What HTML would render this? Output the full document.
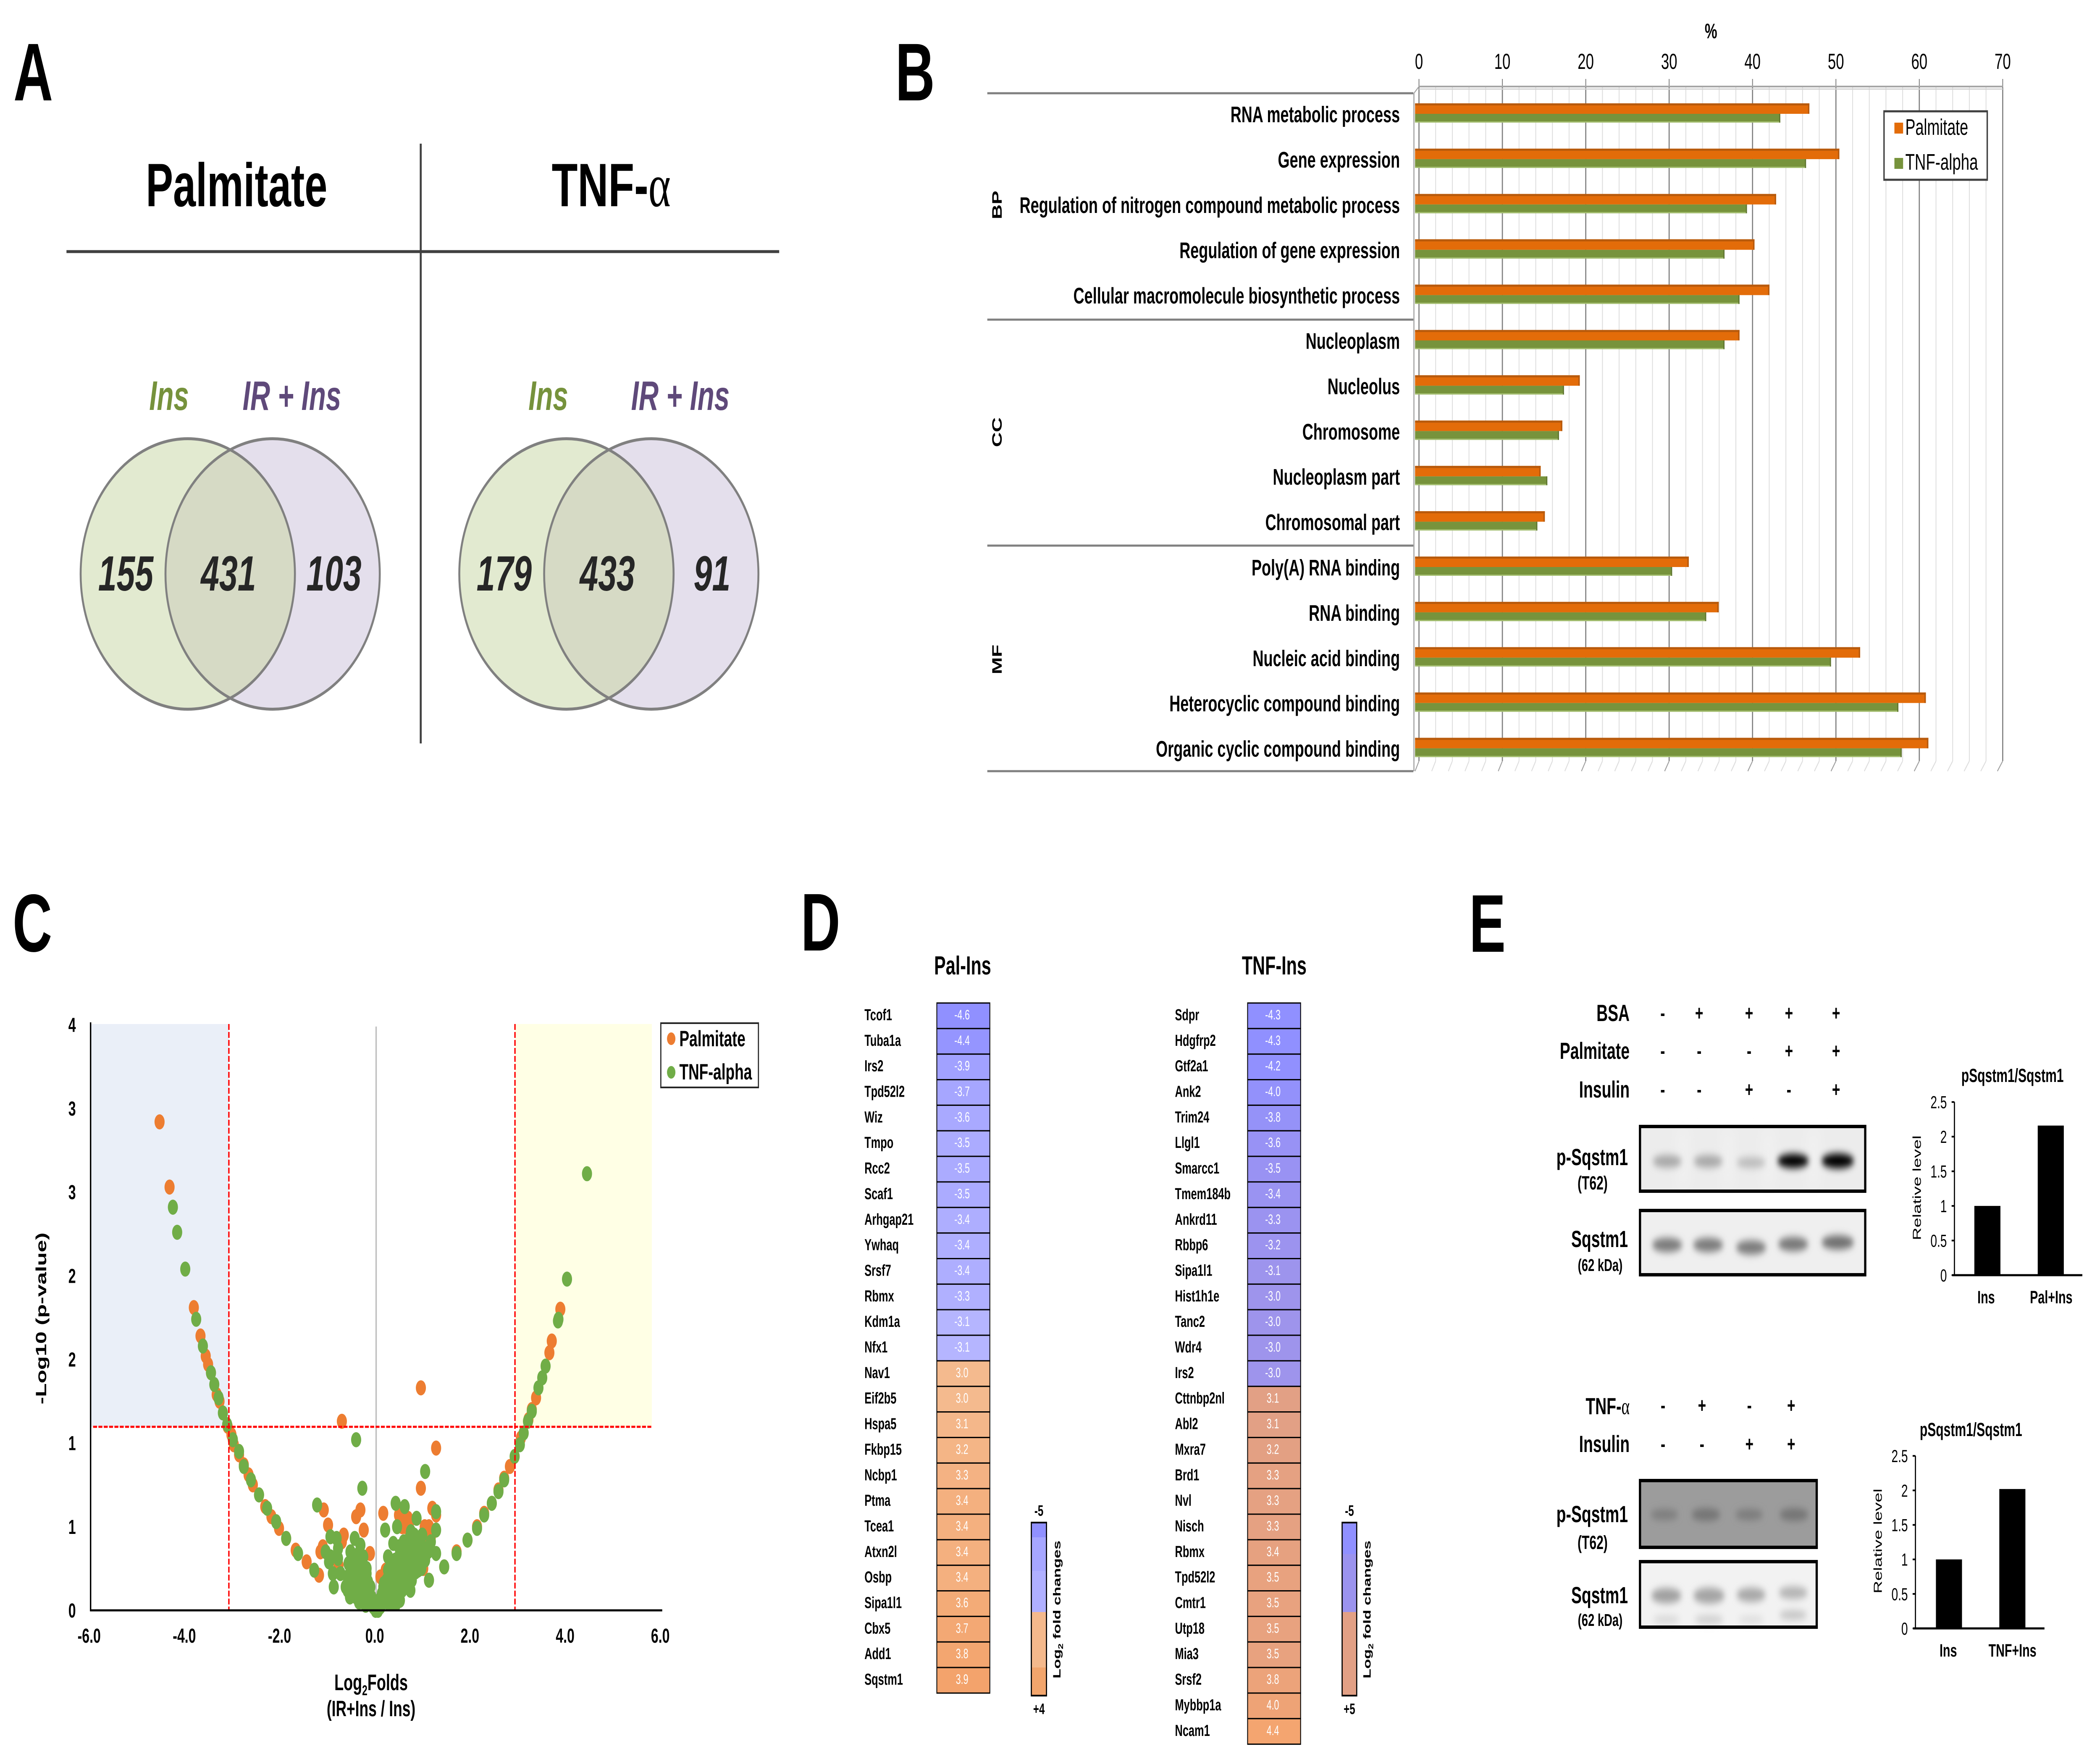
<!DOCTYPE html>
<html lang="en">
<head>
<meta charset="utf-8">
<title>Multi-panel proteomics figure</title>
<style>
html,body{margin:0;padding:0;background:#fff;width:100%;height:100%;overflow:hidden;}
svg{display:block;width:100vw;height:100vh;font-family:"Liberation Sans",sans-serif;}
.b{font-weight:700;}
</style>
</head>
<body>
<svg id="fig" xmlns="http://www.w3.org/2000/svg" viewBox="0 0 7487 4176" preserveAspectRatio="none">
<defs>
<filter id="blur" x="-50%" y="-150%" width="200%" height="400%"><feGaussianBlur stdDeviation="9"/></filter>
<filter id="blurWide" x="-50%" y="-100%" width="200%" height="300%"><feGaussianBlur stdDeviation="22"/></filter>
<clipPath id="vennClip1"><ellipse cx="669.5" cy="1366.5" rx="382" ry="322"/></clipPath>
<clipPath id="vennClip2"><ellipse cx="2019.5" cy="1366.5" rx="382" ry="322"/></clipPath>
</defs>
<rect x="0" y="0" width="7487" height="4176" fill="#fff"/>

<!-- Panel letters -->
<g class="b" font-size="195" fill="#000">
<text x="48" y="239">A</text>
<text x="3192" y="239">B</text>
<text x="45" y="2265">C</text>
<text x="2855" y="2263">D</text>
<text x="5238" y="2266">E</text>
</g>

<!-- Panel A -->
<g>
<line x1="1500" y1="342" x2="1500" y2="1770" stroke="#404040" stroke-width="7"/>
<line x1="237" y1="599" x2="2778" y2="599" stroke="#404040" stroke-width="7"/>
<text class="b" x="520" y="491" font-size="146" textLength="647" lengthAdjust="spacingAndGlyphs">Palmitate</text>
<text class="b" x="1967" y="491" font-size="146" textLength="424" lengthAdjust="spacingAndGlyphs">TNF-<tspan font-family="'Liberation Serif',serif" font-weight="400">α</tspan></text>
<g class="b" font-style="italic" font-size="98">
<text x="532" y="976" fill="#76923c">Ins</text>
<text x="865" y="976" fill="#5f497a">IR + Ins</text>
<text x="1884" y="976" fill="#76923c">Ins</text>
<text x="2250" y="976" fill="#5f497a">IR + Ins</text>
</g>
<ellipse cx="669.5" cy="1366.5" rx="382" ry="322" fill="#e2ead0"/>
<ellipse cx="972" cy="1366.5" rx="382" ry="322" fill="#e4dfec"/>
<ellipse cx="972" cy="1366.5" rx="382" ry="322" fill="#d6dac5" clip-path="url(#vennClip1)"/>
<ellipse cx="669.5" cy="1366.5" rx="382" ry="322" fill="none" stroke="#808080" stroke-width="7"/>
<ellipse cx="972" cy="1366.5" rx="382" ry="322" fill="none" stroke="#808080" stroke-width="7"/>
<ellipse cx="2019.5" cy="1366.5" rx="382" ry="322" fill="#e2ead0"/>
<ellipse cx="2322" cy="1366.5" rx="382" ry="322" fill="#e4dfec"/>
<ellipse cx="2322" cy="1366.5" rx="382" ry="322" fill="#d6dac5" clip-path="url(#vennClip2)"/>
<ellipse cx="2019.5" cy="1366.5" rx="382" ry="322" fill="none" stroke="#808080" stroke-width="7"/>
<ellipse cx="2322" cy="1366.5" rx="382" ry="322" fill="none" stroke="#808080" stroke-width="7"/>
<g class="b" font-style="italic" font-size="118" fill="#262626">
<text x="350" y="1406">155</text>
<text x="716" y="1406">431</text>
<text x="1092" y="1406">103</text>
<text x="1699" y="1406">179</text>
<text x="2067" y="1406">433</text>
<text x="2473" y="1406">91</text>
</g>
</g>

<g id="panelB"></g>
<g id="panelC"></g>
<g id="panelD"></g>

<!-- Panel E blots -->
<g>
<g class="b" font-size="56" text-anchor="end">
<text x="5810" y="2431">BSA</text>
<text x="5810" y="2521">Palmitate</text>
<text x="5810" y="2613">Insulin</text>
<text x="5804" y="2774">p-Sqstm1</text>
<text x="5804" y="2969">Sqstm1</text>
<text x="5810" y="3367">TNF-<tspan font-family="'Liberation Serif',serif" font-weight="400">α</tspan></text>
<text x="5810" y="3457">Insulin</text>
<text x="5804" y="3624">p-Sqstm1</text>
<text x="5804" y="3817">Sqstm1</text>
</g>
<g class="b" text-anchor="middle">
<text x="5678" y="2832" font-size="45">(T62)</text>
<text x="5705" y="3026" font-size="41">(62 kDa)</text>
<text x="5678" y="3688" font-size="45">(T62)</text>
<text x="5705" y="3871" font-size="41">(62 kDa)</text>
</g>
<g font-size="50" text-anchor="middle" class="b">
<text x="5928" y="2429">-</text><text x="6058" y="2429">+</text><text x="6236" y="2429">+</text><text x="6378" y="2429">+</text><text x="6546" y="2429">+</text>
<text x="5928" y="2519">-</text><text x="6058" y="2519">-</text><text x="6236" y="2519">-</text><text x="6378" y="2519">+</text><text x="6546" y="2519">+</text>
<text x="5928" y="2611">-</text><text x="6058" y="2611">-</text><text x="6236" y="2611">+</text><text x="6378" y="2611">-</text><text x="6546" y="2611">+</text>
<text x="5929" y="3363">-</text><text x="6068" y="3363">+</text><text x="6237" y="3363">-</text><text x="6386" y="3363">+</text>
<text x="5929" y="3455">-</text><text x="6068" y="3455">-</text><text x="6237" y="3455">+</text><text x="6386" y="3455">+</text>
</g>

<g>
<rect x="5843" y="2678" width="811" height="162" fill="#ececec"/>
<g filter="url(#blurWide)" fill="#f6f6f6"><rect x="5990" y="2690" width="20" height="140"/><rect x="6150" y="2690" width="20" height="140"/><rect x="6295" y="2690" width="20" height="140"/><rect x="6455" y="2690" width="20" height="140"/></g>
<g filter="url(#blur)">
<ellipse cx="5944" cy="2765" rx="52" ry="15" fill="#a8a8a8"/>
<ellipse cx="6090" cy="2765" rx="52" ry="15" fill="#a8a8a8"/>
<ellipse cx="6243" cy="2768" rx="52" ry="13" fill="#bcbcbc"/>
<ellipse cx="6393" cy="2764" rx="56" ry="17" fill="#000"/>
<ellipse cx="6552" cy="2764" rx="58" ry="18" fill="#000"/>
</g>
<rect x="5847" y="2682" width="803" height="154" fill="none" stroke="#000" stroke-width="8"/>
</g>
<g>
<rect x="5843" y="2878" width="811" height="161" fill="#efefef"/>
<g filter="url(#blur)">
<ellipse cx="5944" cy="2964" rx="54" ry="17" fill="#7c7c7c"/>
<ellipse cx="6090" cy="2964" rx="54" ry="17" fill="#7c7c7c"/>
<ellipse cx="6243" cy="2970" rx="54" ry="17" fill="#7c7c7c"/>
<ellipse cx="6393" cy="2962" rx="54" ry="17" fill="#787878"/>
<ellipse cx="6552" cy="2958" rx="58" ry="17" fill="#707070"/>
</g>
<rect x="5847" y="2882" width="803" height="153" fill="none" stroke="#000" stroke-width="8"/>
</g>
<g>
<rect x="5843" y="3521" width="638" height="167" fill="#9c9c9c"/>
<g filter="url(#blur)">
<ellipse cx="5934" cy="3606" rx="50" ry="13" fill="#7e7e7e"/>
<ellipse cx="6082" cy="3606" rx="52" ry="15" fill="#747474"/>
<ellipse cx="6236" cy="3606" rx="50" ry="13" fill="#7c7c7c"/>
<ellipse cx="6396" cy="3606" rx="52" ry="15" fill="#747474"/>
</g>
<rect x="5847" y="3525" width="630" height="159" fill="none" stroke="#000" stroke-width="8"/>
</g>
<g>
<rect x="5843" y="3714" width="638" height="164" fill="#f2f2f2"/>
<g filter="url(#blur)">
<ellipse cx="5941" cy="3799" rx="54" ry="18" fill="#a0a0a0"/>
<ellipse cx="6093" cy="3799" rx="56" ry="19" fill="#a4a4a4"/>
<ellipse cx="6243" cy="3797" rx="52" ry="17" fill="#a8a8a8"/>
<ellipse cx="6393" cy="3792" rx="52" ry="15" fill="#b4b4b4"/>
<ellipse cx="5941" cy="3856" rx="48" ry="9" fill="#d6d6d6"/>
<ellipse cx="6093" cy="3856" rx="52" ry="10" fill="#cecece"/>
<ellipse cx="6243" cy="3856" rx="46" ry="8" fill="#dadada"/>
<ellipse cx="6393" cy="3845" rx="50" ry="11" fill="#c4c4c4"/>
</g>
<rect x="5847" y="3718" width="630" height="156" fill="none" stroke="#000" stroke-width="8"/>
</g>
</g>
<g id="panelE"></g>
</svg>

<script>
/* ---------- Panel B data ---------- */
const goCategories = ["RNA metabolic process","Gene expression","Regulation of nitrogen compound metabolic process","Regulation of gene expression","Cellular macromolecule biosynthetic process","Nucleoplasm","Nucleolus","Chromosome","Nucleoplasm part","Chromosomal part","Poly(A) RNA binding","RNA binding","Nucleic acid binding","Heterocyclic compound binding","Organic cyclic compound binding"];
const goPalmitate = [47.4,51.0,43.4,40.8,42.6,39.0,19.8,17.7,15.1,15.6,32.9,36.5,53.5,61.4,61.7];
const goTnf = [43.9,47.0,39.9,37.2,39.0,37.2,17.9,17.3,15.9,14.7,30.9,35.0,50.0,58.1,58.5];
const goTicks = [0,10,20,30,40,50,60,70];
const goMinorTicks = [2,4,6,8,12,14,16,18,22,24,26,28,32,34,36,38,42,44,46,48,52,54,56,58,62,64,66,68];

/* ---------- Panel C data ---------- */
const volcanoXTicks = [-6,-4,-2,0,2,4,6];
const volcanoYTicks = [0,0.5,1,1.5,2,2.5,3,3.5];
const volcanoYLabels = ["0","1","1","2","2","3","3","4"];
const palmitateFold = [-4.55,-4.34,-3.83,-3.69,-3.58,-3.53,-3.47,-3.35,-3.29,-3.12,-3.04,-2.99,-2.88,-2.78,-2.68,-2.59,-2.46,-2.33,-2.20,-2.04,-1.89,-1.69,-1.46,-1.20,3.87,3.69,3.64,3.36,3.27,3.20,3.04,2.81,2.69,2.57,2.43,2.27,2.12,1.92,1.69,1.43,-0.72,0.94,1.26,0.94,1.18,1.26,0.15,0.48,0.67,0.62,1.02,1.11,-1.10,-1.01,-0.33,-0.42,-0.26,-0.68,-0.72,-1.12,-1.17,-0.13,0.57,0.83,1.09,0.99,0.71,-0.48,-0.79,0.09,0.20,-0.12,1.11,0.96,-0.17,0.60,0.55,0.70,1.03,1.15];
const palmitateP = [2.92,2.53,1.81,1.64,1.52,1.47,1.42,1.29,1.25,1.10,1.05,0.99,0.93,0.87,0.81,0.75,0.69,0.62,0.56,0.49,0.43,0.36,0.29,0.21,1.80,1.61,1.54,1.27,1.20,1.14,1.03,0.86,0.79,0.72,0.64,0.58,0.50,0.42,0.35,0.26,1.13,1.33,0.97,0.73,0.61,0.57,0.58,0.57,0.55,0.50,0.50,0.50,0.60,0.51,0.60,0.56,0.48,0.45,0.41,0.38,0.35,0.34,0.40,0.42,0.37,0.25,0.19,0.09,0.27,0.20,0.24,0.07,0.18,0.32,0.14,0.52,0.50,0.53,0.42,0.44];
const tnfFold = [-4.27,-4.18,-4.01,-3.78,-3.64,-3.47,-3.40,-3.31,-3.22,-3.13,-3.01,-2.88,-2.78,-2.63,-2.46,-2.29,-2.10,-1.89,-1.64,-1.30,4.43,4.01,3.82,3.83,3.56,3.49,3.41,3.27,3.19,3.10,3.02,2.91,2.69,2.57,2.43,2.27,2.12,1.92,1.69,1.43,-0.42,1.03,-0.29,0.41,0.60,1.26,-1.24,0.19,0.44,0.85,1.26,0.73,0.97,-0.96,-0.83,-0.80,-1.06,-0.96,-0.99,-0.80,-0.91,-0.89,-0.64,-0.75,-0.45,-0.33,-0.54,-0.43,-0.27,1.15,1.09,1.26,0.83,0.36,0.25,0.52,0.73,0.62,0.88,0.83,1.11,0.52,0.41,0.25,0.15,0.31,0.41,-0.17,-0.22,-0.27,-0.38,-0.48,-0.54,-0.43,-0.33,-0.17,-0.12,-0.06,-0.01,0.04,0.09,0.15,0.20,0.25,0.31,0.36,0.46,0.57,0.67,0.09,0.01,-0.31,-0.45,-0.24,-0.14,0.05,0.12,0.18,0.23,0.30,0.35,0.45,0.50,0.55,0.65,0.70,0.75,0.78,-0.35,-0.50,-0.58,-0.38,-0.30,-0.20,0.40,0.48,0.60,0.68,0.92,0.98,-0.55,-0.50,-0.45,-0.40,-0.35,-0.30,-0.25,-0.20,-0.15,-0.50,-0.45,-0.40,-0.35,-0.30,-0.25,-0.20,-0.15,-0.10,-0.42,-0.36,-0.28,-0.22,-0.60,-0.55,0.10,0.15,0.20,0.25,0.30,0.35,0.40,0.45,0.50,0.55,0.60,0.65,0.70,0.75,0.80,0.85,0.90,0.95,1.00,0.45,0.55,0.65,0.75,0.85,0.50,0.42,0.62,0.72,0.32,0.38,-0.60,-0.55,-0.50,-0.45,-0.40,-0.35,-0.30,-0.25,-0.20,-0.12,-0.08,-0.03,-0.47,-0.38,-0.32,-0.27,-0.18,0.16,0.22,0.27,0.33,0.38,0.43,0.48,0.53,0.58,0.63,0.68,0.73,0.78,0.83,0.88,0.93,1.03,1.06,0.42,0.48,0.55,0.60,0.68,0.78,0.88,0.28,0.33,0.20,0.38,0.48,0.58,0.70,0.80];
const tnfP = [2.41,2.26,2.04,1.74,1.58,1.42,1.35,1.27,1.18,1.11,1.02,0.95,0.86,0.78,0.69,0.61,0.53,0.43,0.34,0.24,2.61,1.98,1.73,1.74,1.46,1.39,1.33,1.19,1.13,1.06,0.99,0.92,0.78,0.71,0.64,0.57,0.49,0.42,0.34,0.26,1.02,0.83,0.73,0.64,0.62,0.59,0.63,0.48,0.50,0.55,0.48,0.47,0.45,0.44,0.43,0.37,0.35,0.32,0.29,0.31,0.22,0.14,0.14,0.22,0.43,0.39,0.35,0.32,0.32,0.41,0.35,0.34,0.37,0.40,0.32,0.37,0.34,0.29,0.29,0.23,0.18,0.22,0.17,0.24,0.14,0.10,0.07,0.17,0.10,0.22,0.25,0.24,0.19,0.15,0.12,0.07,0.04,0.02,0.00,0.00,0.02,0.05,0.09,0.14,0.17,0.20,0.25,0.29,0.24,0.07,0.02,0.18,0.09,0.05,0.12,0.04,0.10,0.15,0.05,0.04,0.12,0.13,0.15,0.20,0.33,0.28,0.30,0.38,0.07,0.12,0.28,0.30,0.28,0.25,0.30,0.32,0.38,0.40,0.38,0.33,0.28,0.25,0.30,0.33,0.22,0.30,0.20,0.22,0.15,0.18,0.20,0.16,0.14,0.10,0.13,0.09,0.06,0.08,0.08,0.05,0.06,0.03,0.12,0.08,0.04,0.09,0.13,0.10,0.15,0.08,0.12,0.18,0.22,0.25,0.20,0.27,0.22,0.18,0.27,0.33,0.30,0.25,0.32,0.28,0.33,0.37,0.36,0.40,0.06,0.04,0.14,0.12,0.24,0.27,0.20,0.22,0.30,0.26,0.22,0.28,0.20,0.26,0.16,0.14,0.06,0.03,0.14,0.10,0.15,0.09,0.12,0.16,0.18,0.20,0.22,0.18,0.23,0.27,0.30,0.26,0.30,0.33,0.33,0.32,0.36,0.35,0.34,0.30,0.37,0.17,0.10,0.12,0.16,0.18,0.22,0.24,0.08,0.11,0.06,0.07,0.38,0.41,0.43,0.45];

/* ---------- Panel D data ---------- */
const palGenes = ["Tcof1","Tuba1a","Irs2","Tpd52l2","Wiz","Tmpo","Rcc2","Scaf1","Arhgap21","Ywhaq","Srsf7","Rbmx","Kdm1a","Nfx1","Nav1","Eif2b5","Hspa5","Fkbp15","Ncbp1","Ptma","Tcea1","Atxn2l","Osbp","Sipa1l1","Cbx5","Add1","Sqstm1"];
const palFolds = [-4.6,-4.4,-3.9,-3.7,-3.6,-3.5,-3.5,-3.5,-3.4,-3.4,-3.4,-3.3,-3.1,-3.1,3.0,3.0,3.1,3.2,3.3,3.4,3.4,3.4,3.4,3.6,3.7,3.8,3.9];
const tnfGenes = ["Sdpr","Hdgfrp2","Gtf2a1","Ank2","Trim24","Llgl1","Smarcc1","Tmem184b","Ankrd11","Rbbp6","Sipa1l1","Hist1h1e","Tanc2","Wdr4","Irs2","Cttnbp2nl","Abl2","Mxra7","Brd1","Nvl","Nisch","Rbmx","Tpd52l2","Cmtr1","Utp18","Mia3","Srsf2","Mybbp1a","Ncam1"];
const tnfFolds = [-4.3,-4.3,-4.2,-4.0,-3.8,-3.6,-3.5,-3.4,-3.3,-3.2,-3.1,-3.0,-3.0,-3.0,-3.0,3.1,3.1,3.2,3.3,3.3,3.3,3.4,3.5,3.5,3.5,3.5,3.8,4.0,4.4];

/* ---------- Panel E data ---------- */
const relTicks = [0,0.5,1,1.5,2,2.5];
const relPalCategories = ["Ins","Pal+Ins"];
const relPalValues = [1.0,2.16];
const relTnfCategories = ["Ins","TNF+Ins"];
const relTnfValues = [1.0,2.02];

const NS = "http://www.w3.org/2000/svg";
function svgEl(tag, attrs, parent, txt){
  const e = document.createElementNS(NS, tag);
  for (const k in attrs) e.setAttribute(k, attrs[k]);
  if (txt !== undefined) e.textContent = txt;
  parent.appendChild(e);
  return e;
}

/* ---------- Panel B ---------- */
(function(){
  const g = document.getElementById('panelB');
  const backX = v => 5059 + v * 29.73;
  const frontX = v => 5045 + v * 29.66;
  const rowY = i => 246 + i * 107.9;
  const wallTop = 208, wallBottom = 1812, floorY = 1836;

  goMinorTicks.forEach(v => {
    const l = svgEl('line', {x1: backX(v), y1: wallTop, x2: backX(v), y2: wallBottom, stroke: '#dedede', 'stroke-width': 3}, g);
    
    
    svgEl('line', {x1: backX(v), y1: wallBottom, x2: frontX(v), y2: floorY, stroke: '#dedede', 'stroke-width': 3}, g);
  });
  goTicks.forEach(v => {
    const l = svgEl('line', {x1: backX(v), y1: wallTop, x2: backX(v), y2: wallBottom, stroke: '#808080', 'stroke-width': 4}, g);
    
    
    svgEl('line', {x1: backX(v), y1: wallBottom, x2: frontX(v), y2: floorY, stroke: '#a0a0a0', 'stroke-width': 3}, g);
    svgEl('line', {x1: backX(v), y1: 188, x2: backX(v), y2: wallTop, stroke: '#808080', 'stroke-width': 3}, g);
    const t = svgEl('text', {x: backX(v), y: 164, 'font-size': 52, 'text-anchor': 'middle'}, g, String(v));
    
    
  });
  svgEl('line', {x1: backX(0), y1: 206, x2: backX(70), y2: 206, stroke: '#a6a6a6', 'stroke-width': 4}, g);
  svgEl('line', {x1: backX(0), y1: 212, x2: backX(70), y2: 212, stroke: '#d0d0d0', 'stroke-width': 3}, g);
  svgEl('line', {x1: 5041, y1: 222, x2: backX(0), y2: 206, stroke: '#a6a6a6', 'stroke-width': 3}, g);
  svgEl('line', {x1: 5041, y1: 222, x2: 5041, y2: 1836, stroke: '#a6a6a6', 'stroke-width': 4}, g);

  const pct = svgEl('text', {x: 6100, y: 91, 'font-size': 50, 'text-anchor': 'middle', 'font-weight': 700}, g, '%');
  
  

  [222, 761, 1299, 1836].forEach(y => {
    const l = svgEl('line', {x1: 3520, y1: y, x2: 5039, y2: y, stroke: '#808080', 'stroke-width': 5}, g);
    
    
  });
  [['BP', 488], ['CC', 1029], ['MF', 1570]].forEach(p => {
    const t = svgEl('text', {transform: 'translate(3571,' + p[1] + ') rotate(-90)', 'font-size': 49, 'font-weight': 700, 'text-anchor': 'middle'}, g, p[0]);
    
    
  });

  goCategories.forEach((c, i) => {
    const t = svgEl('text', {x: 4991, y: 291 + i * 107.9, 'font-size': 54, 'font-weight': 700, 'text-anchor': 'end'}, g, c);
    
    

    const y = rowY(i);
    const xo = frontX(goPalmitate[i]);
    const orange = svgEl('rect', {x: 5045, y: y, width: xo - 5045, height: 25, fill: '#e36c09'}, g);
    
    
    svgEl('rect', {x: 5045, y: y, width: xo - 5045, height: 5, fill: '#b85a0c'}, g);
    svgEl('rect', {x: xo - 5, y: y, width: 5, height: 25, fill: '#b85a0c'}, g);

    const xg = frontX(goTnf[i]);
    const green = svgEl('rect', {x: 5045, y: y + 25, width: xg - 5045, height: 21, fill: '#77933c'}, g);
    
    
    svgEl('rect', {x: 5045, y: y + 43, width: xg - 5045, height: 3, fill: '#a5bf72'}, g);
    svgEl('rect', {x: xg - 4, y: y + 25, width: 4, height: 21, fill: '#5f7530'}, g);
  });

  const box = svgEl('rect', {x: 6717, y: 265, width: 368, height: 163, fill: '#fff', stroke: '#404040', 'stroke-width': 5}, g);
  
  
  const s1 = svgEl('rect', {x: 6754, y: 292, width: 31, height: 26, fill: '#e36c09'}, g);
  
  
  const t1 = svgEl('text', {x: 6793, y: 321, 'font-size': 54, textLength: 224, lengthAdjust: 'spacingAndGlyphs'}, g, 'Palmitate');
  
  
  const s2 = svgEl('rect', {x: 6754, y: 376, width: 31, height: 26, fill: '#77933c'}, g);
  
  
  const t2 = svgEl('text', {x: 6793, y: 404, 'font-size': 54, textLength: 259, lengthAdjust: 'spacingAndGlyphs'}, g, 'TNF-alpha');
  
  
})();

/* ---------- Panel C ---------- */
(function(){
  const g = document.getElementById('panelC');
  const xS = v => 1341 + v * 169.7;
  const yS = v => 3834 - v * 398.3;

  const blue = svgEl('rect', {x: 323, y: 2438, width: 493, height: 959, fill: '#eaeff8'}, g);
  
  
  const yellow = svgEl('rect', {x: 1836, y: 2438, width: 488, height: 959, fill: '#ffffe5'}, g);
  
  
  const center = svgEl('line', {x1: 1341, y1: 2444, x2: 1341, y2: 3834, stroke: '#bfbfbf', 'stroke-width': 5}, g);
  
  

  palmitateFold.forEach((v, i) => {
    const c = svgEl('circle', {cx: xS(v), cy: yS(palmitateP[i]), r: 18, fill: '#ed7d31'}, g);
    
    
  });
  tnfFold.forEach((v, i) => {
    const c = svgEl('circle', {cx: xS(v), cy: yS(tnfP[i]), r: 18, fill: '#70ad47'}, g);
    
    
  });

  const dash = {stroke: '#ff0000', 'stroke-width': 5, 'stroke-dasharray': '14 5'};
  [[816, 2438, 816, 3834], [1836, 2438, 1836, 3834], [332, 3397, 2324, 3397]].forEach(p => {
    const l = svgEl('line', Object.assign({x1: p[0], y1: p[1], x2: p[2], y2: p[3]}, dash), g);
    
    
  });

  const ax1 = svgEl('line', {x1: 323, y1: 2434, x2: 323, y2: 3836, stroke: '#000', 'stroke-width': 5}, g);
  
  
  const ax2 = svgEl('line', {x1: 321, y1: 3834, x2: 2361, y2: 3834, stroke: '#000', 'stroke-width': 5}, g);
  
  

  volcanoXTicks.forEach(v => {
    const t = svgEl('text', {x: xS(v) - 5, y: 3911, 'font-size': 48, 'font-weight': 700, 'text-anchor': 'middle'}, g, v.toFixed(1));
    
    
  });
  volcanoYTicks.forEach((v, i) => {
    const t = svgEl('text', {x: 257, y: yS(v) + 17, 'font-size': 48, 'font-weight': 700, 'text-anchor': 'middle'}, g, volcanoYLabels[i]);
    
    
  });

  const yt = svgEl('text', {transform: 'translate(165,3139) rotate(-90)', 'font-size': 53, 'font-weight': 700, 'text-anchor': 'middle'}, g, '-Log10 (p-value)');
  
  

  const xt = svgEl('text', {x: 1323, y: 4024, 'font-size': 54, 'font-weight': 700, 'text-anchor': 'middle'}, g);
  
  
  svgEl('tspan', {}, xt, 'Log');
  svgEl('tspan', {dy: 12, 'font-size': 34}, xt, '2');
  svgEl('tspan', {dy: -12}, xt, 'Folds');
  const xt2 = svgEl('text', {x: 1323, y: 4086, 'font-size': 53, 'font-weight': 700, 'text-anchor': 'middle'}, g, '(IR+Ins / Ins)');
  
  

  const box = svgEl('rect', {x: 2356, y: 2436, width: 348, height: 153, fill: '#fff', stroke: '#262626', 'stroke-width': 4}, g);
  
  
  const c1 = svgEl('circle', {cx: 2393, cy: 2473, r: 15, fill: '#ed7d31'}, g);
  
  
  const t1 = svgEl('text', {x: 2422, y: 2491, 'font-size': 53, 'font-weight': 700}, g, 'Palmitate');
  
  
  const c2 = svgEl('circle', {cx: 2393, cy: 2553, r: 15, fill: '#70ad47'}, g);
  
  
  const t2 = svgEl('text', {x: 2422, y: 2570, 'font-size': 53, 'font-weight': 700}, g, 'TNF-alpha');
  
  
})();

/* ---------- Panel D ---------- */
(function(){
  const g = document.getElementById('panelD');
  const rowH = 60.85, top = 2388;
  const lerp = (a, b, t) => Math.round(a + (b - a) * Math.max(0, Math.min(1, t)));
  const mix = (v, v0, v1, c0, c1) => {
    const t = (v - v0) / (v1 - v0);
    return 'rgb(' + lerp(c0[0], c1[0], t) + ',' + lerp(c0[1], c1[1], t) + ',' + lerp(c0[2], c1[2], t) + ')';
  };
  const palColor = v => v < 0 ? mix(v, -4.6, -3.1, [144,144,255], [181,181,255]) : mix(v, 3.0, 3.9, [244,186,142], [243,163,108]);
  const tnfColor = v => v < 0 ? mix(v, -4.3, -3.0, [144,144,255], [158,148,236]) : mix(v, 3.1, 4.4, [226,160,133], [244,165,112]);

  function heatmap(genes, folds, colX, labelX, colorFn){
    genes.forEach((name, i) => {
      const y = top + i * rowH;
      const cell = svgEl('rect', {x: colX, y: y, width: 189, height: rowH, fill: colorFn(folds[i]), stroke: '#000', 'stroke-width': 3}, g);
      
      
      const val = svgEl('text', {x: colX + 90, y: y + 39, 'font-size': 32, fill: '#fff', 'text-anchor': 'middle'}, g, folds[i].toFixed(1));
      
      
      const lab = svgEl('text', {x: labelX, y: y + 41, 'font-size': 38, 'font-weight': 700}, g, name);
      
      
    });
  }
  heatmap(palGenes, palFolds, 3340, 3082, palColor);
  heatmap(tnfGenes, tnfFolds, 4448, 4189, tnfColor);

  const t1 = svgEl('text', {x: 3432, y: 2320, 'font-size': 62, 'font-weight': 700, 'text-anchor': 'middle'}, g, 'Pal-Ins');
  
  
  const t2 = svgEl('text', {x: 4543, y: 2320, 'font-size': 62, 'font-weight': 700, 'text-anchor': 'middle'}, g, 'TNF-Ins');
  
  

  function colorbar(x, w, segments, lowLabel, highLabel){
    const cy0 = 3625;
    segments.forEach(s => {
      const r = svgEl('rect', {x: x, y: s[0], width: w, height: s[1] - s[0], fill: s[2]}, g);
      
      
    });
    const f = svgEl('rect', {x: x, y: cy0, width: w, height: 412, fill: 'none', stroke: '#000', 'stroke-width': 4}, g);
    
    
    const cx = x + w / 2;
    const a = svgEl('text', {x: cx, y: 3609, 'font-size': 36, 'font-weight': 700, 'text-anchor': 'middle'}, g, lowLabel);
    
    
    const b = svgEl('text', {x: cx, y: 4081, 'font-size': 36, 'font-weight': 700, 'text-anchor': 'middle'}, g, highLabel);
    
    
    const t = svgEl('text', {transform: 'translate(' + (x + w + 50) + ',3832) rotate(-90)', 'font-size': 38, 'font-weight': 700, 'text-anchor': 'middle'}, g);
    
    
    svgEl('tspan', {}, t, 'Log');
    svgEl('tspan', {dy: 9, 'font-size': 25}, t, '2');
    svgEl('tspan', {dy: -9}, t, ' fold changes');
  }
  colorbar(3677, 54, [[3625,3660,'#9090ff'],[3660,3740,'#a6a6ff'],[3740,3838,'#b0b0ff'],[3838,3970,'#f4b98c'],[3970,4037,'#f2a56c']], '-5', '+4');
  colorbar(4785, 52, [[3625,3700,'#9090ff'],[3700,3838,'#9b93ee'],[3838,4037,'#e2a085']], '-5', '+5');
})();

/* ---------- Panel E bar charts ---------- */
(function(){
  const g = document.getElementById('panelE');
  function chart(cfg){
    const y = v => cfg.base - v * cfg.unit;
    const ax1 = svgEl('line', {x1: cfg.axisX, y1: y(2.5), x2: cfg.axisX, y2: cfg.base, stroke: '#000', 'stroke-width': 4}, g);
    
    
    const ax2 = svgEl('line', {x1: cfg.axisX - 8, y1: cfg.base, x2: cfg.axisEnd, y2: cfg.base, stroke: '#000', 'stroke-width': 5}, g);
    
    
    relTicks.forEach(v => {
      svgEl('line', {x1: cfg.axisX - 10, y1: y(v), x2: cfg.axisX, y2: y(v), stroke: '#000', 'stroke-width': 4}, g);
      const t = svgEl('text', {x: cfg.axisX - 27, y: y(v) + 15, 'font-size': 42, 'text-anchor': 'end'}, g, String(v));
      
      
    });
    cfg.values.forEach((v, i) => {
      const x0 = cfg.barX[i];
      const b = svgEl('rect', {x: x0, y: y(v), width: 93, height: cfg.base - y(v), fill: '#000'}, g);
      
      
      const t = svgEl('text', {x: cfg.labelX[i], y: cfg.base + 67, 'font-size': 43, 'font-weight': 700, 'text-anchor': 'middle'}, g, cfg.cats[i]);
      
      
    });
    const ti = svgEl('text', {x: cfg.titleX, y: cfg.titleY, 'font-size': 45, 'font-weight': 700, 'text-anchor': 'middle'}, g, 'pSqstm1/Sqstm1');
    
    
    const yt = svgEl('text', {transform: 'translate(' + (cfg.axisX - 120) + ',' + (cfg.base - 208) + ') rotate(-90)', 'font-size': 42, 'text-anchor': 'middle'}, g, 'Relative level');
    
    
  }
  chart({axisX: 6968, axisEnd: 7424, base: 3036, unit: 164.9, values: relPalValues, cats: relPalCategories, barX: [7039, 7265], labelX: [7081, 7313], titleX: 7175, titleY: 2576});
  chart({axisX: 6829, axisEnd: 7289, base: 3877, unit: 164.3, values: relTnfValues, cats: relTnfCategories, barX: [6902, 7128], labelX: [6946, 7175], titleX: 7027, titleY: 3419});
})();
</script>
</body>
</html>
